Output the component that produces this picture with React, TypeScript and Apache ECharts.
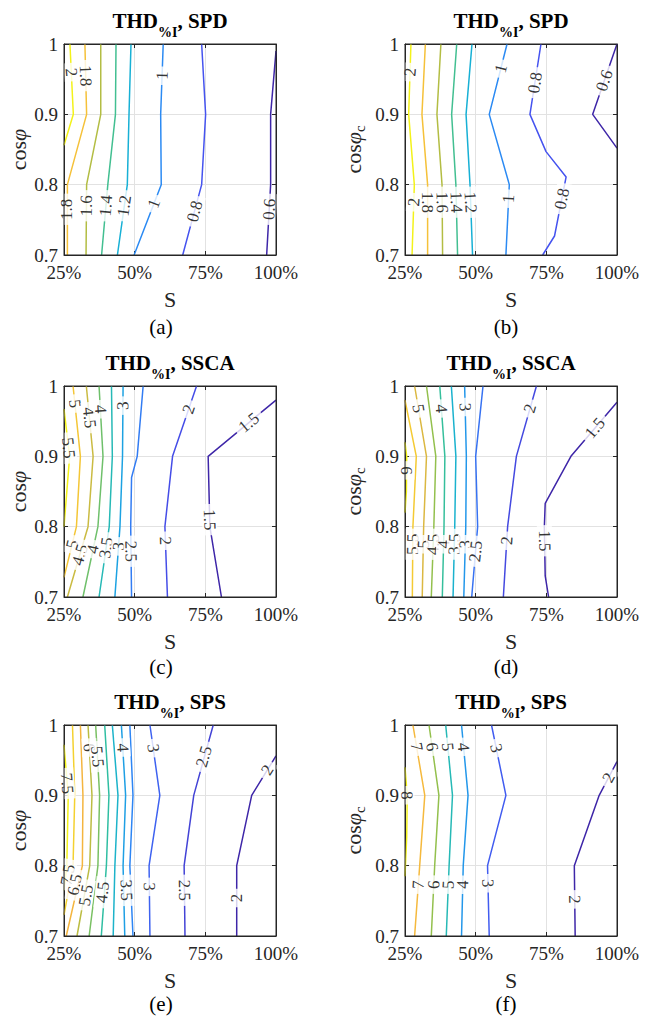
import React, { useEffect, useRef } from "react";
import * as echarts from "echarts";

const FONT = "'Liberation Serif', 'Times New Roman', serif";

// ---------- data: axes ----------
const sTicks = [25, 50, 75, 100];
const cosTicks = [0.7, 0.8, 0.9, 1];

// ---------- panel (a) : SPD, cos phi ----------
const levelsA = [2, 1.8, 1.6, 1.4, 1.2, 1, 0.8, 0.6];
const contoursA = [
  [[27.1, 1], [28.3, 0.9], [25, 0.856]],
  [[32.4, 1], [33, 0.9], [26.2, 0.8], [26.2, 0.7]],
  [[38, 1], [38, 0.9], [33, 0.8], [32.8, 0.7]],
  [[43.4, 1], [43.2, 0.9], [40.5, 0.8], [38.3, 0.7]],
  [[48.7, 1], [48, 0.9], [47.4, 0.8], [43.9, 0.7]],
  [[60.1, 1], [59.2, 0.9], [59.4, 0.8], [49.8, 0.7]],
  [[73.7, 1], [75.1, 0.9], [73.7, 0.8], [67, 0.7]],
  [[100, 0.99], [98.1, 0.9], [98.1, 0.8], [96.7, 0.7]],
];
const labelsA = [
  [27.6, 0.96, "2", -85],
  [32.65, 0.955, "1.8", -88],
  [25.9, 0.765, "1.8", 90],
  [32.9, 0.77, "1.6", 89],
  [39.8, 0.77, "1.4", 85],
  [46.3, 0.77, "1.2", 82],
  [59.7, 0.955, "1", 88],
  [56.8, 0.773, "1", 69],
  [71.2, 0.762, "0.8", 75],
  [97.6, 0.765, "0.6", 86],
];

// ---------- panel (b) : SPD, cos phi_c ----------
const levelsB = [2, 1.8, 1.6, 1.4, 1.2, 1, 0.8, 0.6];
const contoursB = [
  [[27.1, 1], [26.3, 0.9], [28.3, 0.8], [27.5, 0.7]],
  [[32.2, 1], [31, 0.9], [33, 0.8], [33, 0.7]],
  [[37.7, 1], [36.3, 0.9], [38.1, 0.8], [38.3, 0.7]],
  [[43.3, 1], [41.5, 0.9], [43, 0.8], [43.6, 0.7]],
  [[48.7, 1], [46.6, 0.9], [48, 0.8], [48.9, 0.7]],
  [[61.1, 1], [54.8, 0.9], [61.9, 0.8], [60.7, 0.7]],
  [[73.1, 1], [69.2, 0.9], [74.9, 0.847], [82, 0.811], [77.9, 0.727], [73.7, 0.7]],
  [[100, 1], [91.4, 0.9], [100, 0.852]],
];
const labelsB = [
  [26.8, 0.96, "2", 85],
  [28.1, 0.775, "2", 86],
  [33, 0.775, "1.8", -90],
  [38.15, 0.775, "1.6", -89],
  [43.15, 0.775, "1.4", -88],
  [48.2, 0.775, "1.2", -87],
  [58.9, 0.965, "1", 76],
  [61.6, 0.78, "1", 87],
  [71, 0.945, "0.8", 81],
  [80.5, 0.78, "0.8", 79],
  [95.5, 0.948, "0.6", 71],
];

// ---------- panel (c) : SSCA, cos phi ----------
const levelsC = [5.5, 5, 4.5, 4, 3.5, 3, 2.5, 2, 1.5];
const contoursC = [
  [[25, 0.967], [27, 0.9], [25, 0.8]],
  [[28.2, 1], [30.8, 0.9], [29.4, 0.8], [25, 0.728]],
  [[32.9, 1], [35.3, 0.9], [33.5, 0.8], [26.2, 0.7]],
  [[37.4, 1], [38.8, 0.9], [37, 0.8], [31.7, 0.7]],
  [[41.8, 1], [42.1, 0.9], [41, 0.8], [37.4, 0.7]],
  [[45.9, 1], [45.7, 0.9], [44.8, 0.8], [43, 0.7]],
  [[53, 1], [50.9, 0.9], [48.9, 0.87], [48.6, 0.8], [48.9, 0.7]],
  [[71.9, 1], [63.4, 0.9], [60.7, 0.8], [61.6, 0.7]],
  [[100, 0.98], [76, 0.9], [76.6, 0.8], [80.7, 0.7]],
];
const labelsC = [
  [26.6, 0.912, "5.5", -84],
  [28.85, 0.975, "5", -84],
  [34, 0.955, "4.5", -84],
  [37.9, 0.967, "4", -86],
  [45.85, 0.972, "3", 89],
  [69.1, 0.967, "2", 71],
  [90.4, 0.948, "1.5", 40],
  [27.9, 0.775, "5", 76],
  [30.6, 0.76, "4.5", 74],
  [35.3, 0.768, "4", 78],
  [39.9, 0.77, "3.5", 82],
  [44.3, 0.772, "3", 85],
  [48.7, 0.765, "2.5", -89],
  [60.9, 0.78, "2", -88],
  [76.5, 0.81, "1.5", -88],
];

// ---------- panel (d) : SSCA, cos phi_c ----------
const levelsD = [6, 5.5, 5, 4.5, 4, 3.5, 3, 2.5, 2, 1.5];
const contoursD = [
  [[25, 0.92], [25.6, 0.9], [25.5, 0.85], [25, 0.82]],
  [[25, 0.98], [29, 0.9], [27.8, 0.8], [27.6, 0.7]],
  [[28.4, 1], [32.6, 0.9], [31.6, 0.8], [31.1, 0.7]],
  [[32.6, 1], [35.9, 0.9], [35.2, 0.8], [34.3, 0.7]],
  [[37.3, 1], [39.1, 0.9], [38.8, 0.8], [38.2, 0.7]],
  [[41.4, 1], [43, 0.9], [42.6, 0.8], [42, 0.7]],
  [[46.1, 1], [46.7, 0.9], [46.5, 0.8], [45.8, 0.7]],
  [[52.6, 1], [50, 0.9], [50.7, 0.8], [48.6, 0.7]],
  [[71.5, 1], [64.4, 0.9], [61.3, 0.8], [59.8, 0.7]],
  [[100, 0.977], [83.7, 0.9], [74.6, 0.833], [74.3, 0.8], [74.6, 0.73], [75.8, 0.7]],
];
const labelsD = [
  [25.7, 0.88, "6", -90],
  [29.7, 0.968, "5", -80],
  [37.9, 0.968, "4", -85],
  [46.3, 0.97, "3", -88],
  [69.2, 0.968, "2", 74],
  [92.2, 0.94, "1.5", 50],
  [27.75, 0.775, "5.5", 89],
  [31.5, 0.775, "5", 88],
  [35, 0.775, "4.5", 87],
  [38.65, 0.775, "4", 88],
  [42.45, 0.775, "3.5", 88],
  [46.3, 0.775, "3", 88],
  [50, 0.765, "2.5", 84],
  [61, 0.78, "2", 86],
  [74.4, 0.78, "1.5", -89],
];

// ---------- panel (e) : SPS, cos phi ----------
const levelsE = [7.5, 7, 6.5, 6, 5.5, 5, 4.5, 4, 3.5, 3, 2.5, 2];
const contoursE = [
  [[25, 0.972], [26.5, 0.9], [26, 0.8], [25, 0.765]],
  [[28, 1], [28.8, 0.9], [28.2, 0.8], [25, 0.73]],
  [[30.8, 1], [31.7, 0.9], [31.5, 0.8], [25.8, 0.7]],
  [[33.5, 1], [34.9, 0.9], [34.1, 0.8], [29.6, 0.7]],
  [[36.2, 1], [37.6, 0.9], [37, 0.8], [33.9, 0.7]],
  [[39.4, 1], [40.9, 0.9], [40, 0.8], [38.2, 0.7]],
  [[42.1, 1], [44.1, 0.9], [43, 0.8], [42.4, 0.7]],
  [[45.3, 1], [46.8, 0.9], [45.9, 0.8], [46.5, 0.7]],
  [[48.3, 1], [49.4, 0.9], [48.3, 0.8], [49.4, 0.7]],
  [[55.4, 1], [58.9, 0.9], [55.1, 0.8], [55.4, 0.7]],
  [[77.8, 1], [70.9, 0.9], [67.5, 0.8], [67.8, 0.7]],
  [[100, 0.956], [91.4, 0.9], [86.1, 0.8], [86.1, 0.7]],
];
const labelsE = [
  [26.1, 0.917, "7.5", -85],
  [33.95, 0.968, "6", -87],
  [36.85, 0.955, "5.5", -85],
  [45.8, 0.968, "4", -86],
  [56.55, 0.967, "3", -82],
  [74.5, 0.955, "2.5", 74],
  [96.9, 0.936, "2", 58],
  [26.3, 0.787, "7.5", 80],
  [28.8, 0.773, "6.5", 78],
  [32.8, 0.758, "5.5", 80],
  [38.6, 0.762, "4.5", 84],
  [47.1, 0.765, "3.5", -88],
  [55.2, 0.77, "3", -89],
  [67.6, 0.765, "2.5", -89],
  [86.1, 0.754, "2", 90],
];

// ---------- panel (f) : SPS, cos phi_c ----------
const levelsF = [8, 7, 6, 5, 4, 3, 2];
const contoursF = [
  [[25, 0.94], [25.8, 0.9], [25.6, 0.84], [25, 0.785]],
  [[27.8, 1], [32, 0.9], [30.2, 0.8], [28.4, 0.7]],
  [[33.5, 1], [37, 0.9], [35.5, 0.8], [34.3, 0.7]],
  [[39.4, 1], [41.8, 0.9], [40.6, 0.8], [39.6, 0.7]],
  [[45, 1], [47.3, 0.9], [45.6, 0.8], [45, 0.7]],
  [[55.6, 1], [60.7, 0.9], [54.2, 0.8], [54.8, 0.7]],
  [[100, 0.948], [93.7, 0.9], [84.9, 0.8], [85.2, 0.7]],
];
const labelsF = [
  [25.7, 0.9, "8", -88],
  [29.1, 0.969, "7", -80],
  [34.6, 0.969, "6", -81],
  [40.1, 0.969, "5", -84],
  [45.7, 0.969, "4", -84],
  [57.3, 0.967, "3", -78],
  [97.0, 0.925, "2", 62],
  [29.7, 0.773, "7", 87],
  [35.2, 0.773, "6", 87],
  [40.3, 0.773, "5", 87],
  [45.4, 0.773, "4", 88],
  [54.3, 0.775, "3", -89],
  [85, 0.752, "2", -89],
];

const titles = ["SPD", "SPD", "SSCA", "SSCA", "SPS", "SPS"];
const captions = ["(a)", "(b)", "(c)", "(d)", "(e)", "(f)"];
const yLabelSubs = ["", "c", "", "c", "", "c"];

// ---------- layout ----------
const GRID_POS = [
  [64, 44], [405, 44],
  [64, 386], [405, 386],
  [64, 725], [405, 725],
];
const GW = 212;
const GH = 211;
const CAPTION_Y = [327, 327, 667, 667, 1004, 1004];

const PARULA: [number, string][] = [
  [0, "#3e26a8"],
  [0.14, "#4652ef"],
  [0.28, "#2c88f4"],
  [0.42, "#15afd9"],
  [0.55, "#30bfa0"],
  [0.68, "#9ec044"],
  [0.82, "#f5b53f"],
  [0.92, "#f4d42e"],
  [1, "#f3f21a"],
];

function hexToRgb(h: string) {
  return [parseInt(h.slice(1, 3), 16), parseInt(h.slice(3, 5), 16), parseInt(h.slice(5, 7), 16)];
}
function parula(t: number) {
  t = Math.max(0, Math.min(1, t));
  for (let k = 0; k < PARULA.length - 1; k++) {
    const [a0, c0] = PARULA[k];
    const [a1, c1] = PARULA[k + 1];
    if (t <= a1) {
      const f = (t - a0) / (a1 - a0);
      const r0 = hexToRgb(c0);
      const r1 = hexToRgb(c1);
      const m = r0.map((v, i) => Math.round(v + (r1[i] - v) * f));
      return `rgb(${m[0]},${m[1]},${m[2]})`;
    }
  }
  return PARULA[PARULA.length - 1][1];
}

let measureCtx: CanvasRenderingContext2D | null = null;
function textWidth(text: string, font: string) {
  if (!measureCtx) measureCtx = document.createElement("canvas").getContext("2d");
  if (!measureCtx) return text.length * 10;
  measureCtx.font = font;
  return measureCtx.measureText(text).width;
}

function txt(x: number, y: number, text: string, opts: any) {
  return {
    type: "text",
    x,
    y,
    z: 20,
    silent: true,
    style: {
      text,
      fontFamily: FONT,
      fontSize: opts.size,
      fontWeight: opts.weight || "normal",
      fontStyle: opts.style || "normal",
      fill: opts.color || "#000",
      textAlign: opts.align || "left",
      align: opts.align || "left",
      textVerticalAlign: "middle",
      verticalAlign: "middle",
    },
  };
}

export default function App() {
  const ref = useRef<HTMLDivElement>(null);

  useEffect(() => {
    if (!ref.current) return;
    const chart = echarts.init(ref.current, undefined, { renderer: "svg" });

    const panels = [
      { levels: levelsA, contours: contoursA, labels: labelsA },
      { levels: levelsB, contours: contoursB, labels: labelsB },
      { levels: levelsC, contours: contoursC, labels: labelsC },
      { levels: levelsD, contours: contoursD, labels: labelsD },
      { levels: levelsE, contours: contoursE, labels: labelsE },
      { levels: levelsF, contours: contoursF, labels: labelsF },
    ];

    const grid: any[] = [];
    const xAxis: any[] = [];
    const yAxis: any[] = [];
    const series: any[] = [];
    const graphic: any[] = [];

    const axisColor = "#262626";
    const sMin = sTicks[0];
    const sMax = sTicks[sTicks.length - 1];
    const sInt = sTicks[1] - sTicks[0];
    const cMin = cosTicks[0];
    const cMax = cosTicks[cosTicks.length - 1];

    panels.forEach((p, i) => {
      const [left, top] = GRID_POS[i];
      grid.push({ left, top, width: GW, height: GH, show: false, containLabel: false });
    });
    panels.forEach((p, i) => {
      xAxis.push({
        type: "value",
        gridIndex: i,
        min: sMin,
        max: sMax,
        interval: sInt,
        axisLine: { show: true, lineStyle: { color: axisColor, width: 1 } },
        axisTick: { show: true, inside: true, length: 4, lineStyle: { color: axisColor } },
        axisLabel: {
          formatter: (v: number) => `${v}%`,
          fontFamily: FONT,
          fontSize: 19,
          color: axisColor,
          margin: 8,
        },
        splitLine: { show: true, lineStyle: { color: "#e2e2e2", width: 1 } },
      });
    });
    panels.forEach((p, i) => {
      xAxis.push({
        type: "value",
        gridIndex: i,
        position: "top",
        min: sMin,
        max: sMax,
        interval: sInt,
        axisLine: { show: true, lineStyle: { color: axisColor, width: 1 } },
        axisTick: { show: true, inside: true, length: 4, lineStyle: { color: axisColor } },
        axisLabel: { show: false },
        splitLine: { show: false },
      });
    });
    panels.forEach((p, i) => {
      yAxis.push({
        type: "value",
        gridIndex: i,
        min: cMin,
        max: cMax,
        interval: 0.1,
        axisLine: { show: true, lineStyle: { color: axisColor, width: 1 } },
        axisTick: { show: true, inside: true, length: 4, lineStyle: { color: axisColor } },
        axisLabel: {
          formatter: (v: number) => String(Math.round(v * 10) / 10),
          fontFamily: FONT,
          fontSize: 19,
          color: axisColor,
          margin: 6,
        },
        splitLine: { show: true, lineStyle: { color: "#e2e2e2", width: 1 } },
      });
    });
    panels.forEach((p, i) => {
      yAxis.push({
        type: "value",
        gridIndex: i,
        position: "right",
        min: cMin,
        max: cMax,
        interval: 0.1,
        axisLine: { show: true, lineStyle: { color: axisColor, width: 1 } },
        axisTick: { show: true, inside: true, length: 4, lineStyle: { color: axisColor } },
        axisLabel: { show: false },
        splitLine: { show: false },
      });
    });

    panels.forEach((p, i) => {
      const lo = Math.min(...p.levels);
      const hi = Math.max(...p.levels);
      p.contours.forEach((pts, j) => {
        series.push({
          type: "line",
          xAxisIndex: i,
          yAxisIndex: i,
          data: pts,
          symbol: "none",
          showSymbol: false,
          silent: true,
          z: 2,
          lineStyle: { color: parula((p.levels[j] - lo) / (hi - lo)), width: 1.5 },
        });
      });
      series.push({
        type: "scatter",
        xAxisIndex: i,
        yAxisIndex: i,
        symbolSize: 1,
        silent: true,
        z: 5,
        itemStyle: { color: "rgba(0,0,0,0)" },
        label: {
          show: true,
          position: "inside",
          fontFamily: FONT,
          fontSize: 17,
          color: "#000",
          backgroundColor: "#fff",
          padding: [0, 5],
          lineHeight: 15,
        },
        data: p.labels.map((l) => ({
          value: [l[0], l[1]],
          label: { formatter: String(l[2]), rotate: l[3] },
        })),
      });
    });

    const mainTitleFont = `bold 21px ${FONT}`;
    const subTitleFont = `bold 14px ${FONT}`;
    panels.forEach((p, i) => {
      const [left, top] = GRID_POS[i];
      const cx = left + GW / 2;
      const bottom = top + GH;
      graphic.push({
        type: "rect",
        z: 15,
        silent: true,
        shape: { x: left, y: top, width: GW, height: GH },
        style: { fill: "none", stroke: axisColor, lineWidth: 1 },
      });
      const t1 = "THD";
      const t2 = "%I";
      const t3 = `, ${titles[i]}`;
      const w1 = textWidth(t1, mainTitleFont);
      const w2 = textWidth(t2, subTitleFont);
      const w3 = textWidth(t3, mainTitleFont);
      const x0 = cx - (w1 + w2 + w3) / 2;
      graphic.push(txt(x0, top - 23, t1, { size: 21, weight: "bold" }));
      graphic.push(txt(x0 + w1, top - 12, t2, { size: 14, weight: "bold" }));
      graphic.push(txt(x0 + w1 + w2, top - 23, t3, { size: 21, weight: "bold" }));
      graphic.push(txt(cx, bottom + 44, "S", { size: 22, align: "center", color: axisColor }));
      graphic.push(txt(cx - (i % 2 === 0 ? 9 : 5), CAPTION_Y[i], captions[i], { size: 21, align: "center" }));
      const ya = "cos";
      const yb = "φ";
      const yc = yLabelSubs[i];
      const fa = `22px ${FONT}`;
      const fb = `italic 22px ${FONT}`;
      const fc = `15px ${FONT}`;
      const wa = textWidth(ya, fa);
      const wb = textWidth(yb, fb);
      const wc = yc ? textWidth(yc, fc) : 0;
      const lx0 = -(wa + wb + wc) / 2;
      graphic.push({
        type: "group",
        x: left - (yc ? 52 : 46),
        y: top + GH / 2,
        rotation: Math.PI / 2,
        z: 20,
        children: [
          txt(lx0, 0, ya, { size: 22, color: axisColor }),
          txt(lx0 + wa, 0, yb, { size: 22, style: "italic", color: axisColor }),
          ...(yc ? [txt(lx0 + wa + wb, 7, yc, { size: 15, color: axisColor })] : []),
        ],
      });
    });

    chart.setOption({
      animation: false,
      backgroundColor: "#fff",
      grid,
      xAxis,
      yAxis,
      series,
      graphic: { elements: graphic },
    });

    return () => chart.dispose();
  }, []);

  return (
    <div
      ref={ref}
      style={{ position: "fixed", left: 0, top: 0, width: 652, height: 1020, background: "#fff" }}
    />
  );
}
